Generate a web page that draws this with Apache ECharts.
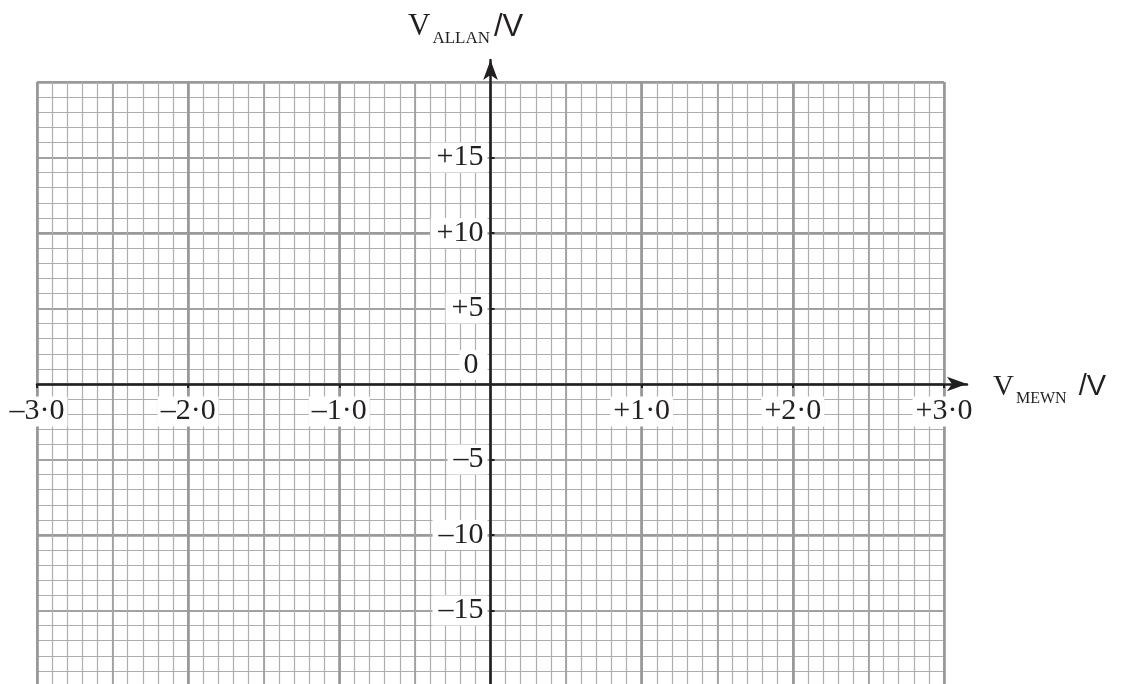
<!DOCTYPE html>
<html>
<head>
<meta charset="utf-8">
<script src="https://cdn.jsdelivr.net/npm/echarts@6/dist/echarts.min.js"></script>
<style>
  html, body { margin: 0; padding: 0; background: #fff; }
  #chart { width: 1127px; height: 684px; }
</style>
</head>
<body>
<div id="chart"></div>
<script>
  // paper extent
  var xRange = [-3, 3];
  var yRange = [-20, 20];
  // axis arrows run past the paper
  var xArrowMax = 3.152;
  var yArrowMax = 21.46;

  var xTickValues = [-3, -2, -1, 1, 2, 3];
  var xTickLabels = ['\u20133\u00b70', '\u20132\u00b70', '\u20131\u00b70', '+1\u00b70', '+2\u00b70', '+3\u00b70'];
  var yTickValues = [-15, -10, -5, 5, 10, 15];
  var yTickLabels = ['\u201315', '\u201310', '\u20135', '+5', '+10', '+15'];
  var zeroLabel = '0';

  var ink = '#231f20';
  var serif = "'Liberation Serif', 'DejaVu Serif', serif";
  var sans = "'Liberation Sans', Arial, sans-serif";

  // paper rectangle
  var paper = { left: 37, top: 82, width: 907, height: 604 };
  var pxX = paper.width / (xRange[1] - xRange[0]);
  var pxY = paper.height / (yRange[1] - yRange[0]);
  var zeroX = paper.left + (0 - xRange[0]) * pxX;
  var zeroY = paper.top + (yRange[1] - 0) * pxY;
  var axisTop = paper.top - (yArrowMax - yRange[1]) * pxY;
  var axisRight = paper.left + (xArrowMax - xRange[0]) * pxX;

  function pick(values, labels) {
    return function (v) {
      for (var i = 0; i < values.length; i++) {
        if (Math.abs(values[i] - v) < 1e-6) return labels[i];
      }
      return '';
    };
  }

  var tok = { fontFamily: serif, fontSize: 30, color: ink, lineHeight: 27 };

  function paperX(interval, color, width) {
    return {
      gridIndex: 0, type: 'value', min: xRange[0], max: xRange[1], interval: interval,
      axisLine: { show: false }, axisTick: { show: false }, axisLabel: { show: false },
      splitLine: { show: true, lineStyle: { color: color, width: width } }
    };
  }
  function paperY(interval, color, width) {
    return {
      gridIndex: 0, type: 'value', min: yRange[0], max: yRange[1], interval: interval,
      axisLine: { show: false }, axisTick: { show: false }, axisLabel: { show: false },
      splitLine: { show: true, lineStyle: { color: color, width: width } }
    };
  }
  var hidden = { show: false };

  var chart = echarts.init(document.getElementById('chart'));
  chart.setOption({
    animation: false,
    title: [
      {
        left: 403, top: 2,
        text: '{v|V}{s|ALLAN}{u|/V}',
        textStyle: {
          rich: {
            v: { fontFamily: serif, fontWeight: 'normal', fontSize: 31, color: ink, lineHeight: 40, verticalAlign: 'middle' },
            s: { fontFamily: serif, fontWeight: 'normal', fontSize: 17, color: ink, lineHeight: 16, verticalAlign: 'bottom', padding: [0, 4, 0, 2] },
            u: { fontFamily: sans, fontWeight: 'normal', fontSize: 31, color: ink, lineHeight: 40, verticalAlign: 'middle' }
          }
        }
      },
      {
        left: 988, top: 362,
        text: '{v|V}{s|MEWN}{u| /V}',
        textStyle: {
          rich: {
            v: { fontFamily: serif, fontWeight: 'normal', fontSize: 29, color: ink, lineHeight: 40, verticalAlign: 'middle' },
            s: { fontFamily: serif, fontWeight: 'normal', fontSize: 16, color: ink, lineHeight: 16, verticalAlign: 'bottom', padding: [0, 4, 0, 2] },
            u: { fontFamily: sans, fontWeight: 'normal', fontSize: 29, color: ink, lineHeight: 40, verticalAlign: 'middle' }
          }
        }
      }
    ],
    grid: [
      // graph paper
      { left: paper.left, top: paper.top, width: paper.width, height: paper.height, outerBoundsMode: 'none' },
      // horizontal axis: bottom edge on y = 0
      { left: paper.left, top: axisTop, width: axisRight - paper.left, height: zeroY - axisTop, outerBoundsMode: 'none' },
      // vertical axis: left edge on x = 0
      { left: zeroX, top: axisTop, width: axisRight - zeroX, height: paper.top + paper.height - axisTop, outerBoundsMode: 'none' }
    ],
    xAxis: [
      paperX(0.1, '#aeaeb0', 1.2),
      paperX(0.5, '#a2a2a4', 1.8),
      paperX(1, '#98989a', 2.6),
      {
        gridIndex: 1, type: 'value', position: 'bottom', min: xRange[0], max: xArrowMax, z: 5,
        axisLine: { show: true, onZero: false, lineStyle: { color: ink, width: 2.5 },
                    symbol: ['none', 'arrow'], symbolSize: [11, 20] },
        axisTick: { show: true, length: 4, customValues: xTickValues, lineStyle: { color: ink, width: 2 } },
        axisLabel: { show: true, margin: 14, customValues: xTickValues,
                     formatter: function (v) { return '{n|' + pick(xTickValues, xTickLabels)(v) + '}'; },
                     rich: { n: Object.assign({ backgroundColor: '#fff', padding: [0, 3] }, tok) } },
        splitLine: hidden
      },
      { gridIndex: 2, type: 'value', min: 0, max: 1, show: false }
    ],
    yAxis: [
      paperY(1, '#aeaeb0', 1.2),
      paperY(5, '#a2a2a4', 1.8),
      paperY(10, '#98989a', 2.6),
      { gridIndex: 1, type: 'value', min: 0, max: 1, show: false },
      {
        gridIndex: 2, type: 'value', position: 'left', min: yRange[0], max: yArrowMax, z: 5,
        axisLine: { show: true, onZero: false, lineStyle: { color: ink, width: 2.5 },
                    symbol: ['none', 'arrow'], symbolSize: [11, 20] },
        axisTick: { show: true, inside: true, length: 4, customValues: yTickValues, lineStyle: { color: ink, width: 2 } },
        axisLabel: { show: true, margin: 3, customValues: yTickValues.concat([0]),
                     formatter: function (v) {
                       // "0" sits above-left of the origin
                       if (v === 0) return '{z|' + zeroLabel + '}\n{g| }';
                       return '{n|' + pick(yTickValues, yTickLabels)(v) + '}';
                     },
                     rich: {
                       n: Object.assign({ backgroundColor: '#fff', padding: [0, 4, 0, 6] }, tok),
                       z: Object.assign({ backgroundColor: '#fff', padding: [0, 9, 0, 4] }, tok),
                       g: { fontSize: 10, lineHeight: 38, height: 38 }
                     } },
        splitLine: hidden
      }
    ],
    series: []
  });
</script>
</body>
</html>
